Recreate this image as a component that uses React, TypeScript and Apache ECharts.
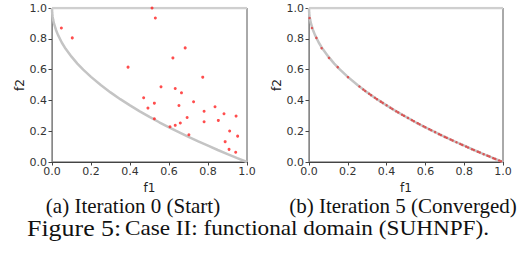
import React, { useEffect, useRef } from "react";
import * as echarts from "echarts";

// Reference front (grey curve)
const frontF1 = [0, 0.001, 0.003, 0.006, 0.01, 0.02, 0.03, 0.05, 0.07, 0.1, 0.13, 0.16, 0.2, 0.25, 0.3, 0.35, 0.4, 0.45, 0.5, 0.55, 0.6, 0.65, 0.7, 0.75, 0.8, 0.85, 0.9, 0.95, 1.0];
const frontF2 = [1.0, 0.968, 0.945, 0.923, 0.9, 0.859, 0.827, 0.776, 0.735, 0.684, 0.639, 0.6, 0.553, 0.5, 0.452, 0.408, 0.368, 0.329, 0.293, 0.258, 0.225, 0.194, 0.163, 0.134, 0.106, 0.078, 0.051, 0.025, 0.0];

// Iteration 0 (start) population
const startF1 = [0.048, 0.104, 0.513, 0.53, 0.39, 0.683, 0.62, 0.773, 0.559, 0.632, 0.664, 0.47, 0.492, 0.525, 0.651, 0.726, 0.78, 0.836, 0.882, 0.944, 0.525, 0.693, 0.78, 0.853, 0.605, 0.632, 0.658, 0.702, 0.911, 0.888, 0.952, 0.908, 0.942];
const startF2 = [0.87, 0.806, 1.0, 0.935, 0.616, 0.741, 0.676, 0.551, 0.488, 0.477, 0.449, 0.417, 0.35, 0.382, 0.367, 0.391, 0.33, 0.359, 0.313, 0.298, 0.281, 0.289, 0.261, 0.27, 0.229, 0.238, 0.253, 0.177, 0.201, 0.132, 0.168, 0.082, 0.063];

// Iteration 5 (converged) population
const convF1 = [0.003, 0.015, 0.038, 0.065, 0.103, 0.148, 0.201, 0.26, 0.28, 0.29, 0.31, 0.32, 0.34, 0.35, 0.37, 0.38, 0.4, 0.42, 0.43, 0.45, 0.46, 0.48, 0.49, 0.51, 0.53, 0.54, 0.56, 0.57, 0.59, 0.6, 0.62, 0.63, 0.65, 0.67, 0.68, 0.7, 0.71, 0.73, 0.74, 0.76, 0.78, 0.79, 0.81, 0.82, 0.84, 0.85, 0.87, 0.88, 0.9, 0.92, 0.93, 0.95, 0.96, 0.98, 0.99];
const convF2 = [0.935, 0.87, 0.806, 0.739, 0.676, 0.616, 0.551, 0.49, 0.471, 0.461, 0.443, 0.434, 0.417, 0.408, 0.392, 0.384, 0.368, 0.352, 0.344, 0.329, 0.322, 0.307, 0.3, 0.286, 0.272, 0.265, 0.252, 0.245, 0.232, 0.225, 0.213, 0.206, 0.194, 0.181, 0.175, 0.163, 0.157, 0.146, 0.14, 0.128, 0.117, 0.111, 0.1, 0.094, 0.083, 0.078, 0.067, 0.062, 0.051, 0.041, 0.036, 0.025, 0.02, 0.01, 0.005];

const topEdge = [[0, 1], [1, 1]];

const captionA = "(a) Iteration 0 (Start)";
const captionB = "(b) Iteration 5 (Converged)";
const figLabel = "Figure 5:";
const figText = "Case II: functional domain (SUHNPF).";

const zip = (a: number[], b: number[]) => a.map((v, i) => [v, b[i]]);

export default function App() {
  const ref = useRef<HTMLDivElement>(null);
  useEffect(() => {
    if (!ref.current) return;
    const chart = echarts.init(ref.current, undefined, { renderer: "svg" });
    const font = "DejaVu Sans";
    const mkX = (gi: number) => ({
      type: "value" as const,
      gridIndex: gi,
      min: 0,
      max: 1,
      interval: 0.2,
      name: "f1",
      nameLocation: "middle" as const,
      nameGap: 18,
      nameTextStyle: { fontFamily: font, fontSize: 12, color: "#222", lineHeight: 12 },
      axisLine: { show: true, lineStyle: { color: "#444", width: 1 } },
      axisTick: { show: true, length: 3.5, lineStyle: { color: "#444" } },
      axisLabel: { fontFamily: font, fontSize: 11, color: "#333", margin: 4, formatter: (v: number) => v.toFixed(1) },
      splitLine: { show: false },
    });
    const mkY = (gi: number) => ({
      type: "value" as const,
      gridIndex: gi,
      min: 0,
      max: 1,
      interval: 0.2,
      name: "f2",
      nameLocation: "middle" as const,
      nameGap: 26,
      nameTextStyle: { fontFamily: font, fontSize: 12, color: "#222" },
      axisLine: { show: true, lineStyle: { color: "#888", width: 1 } },
      axisTick: { show: true, length: 3.5, lineStyle: { color: "#444" } },
      axisLabel: { fontFamily: font, fontSize: 11, color: "#333", margin: 5, formatter: (v: number) => v.toFixed(1) },
      splitLine: { show: false },
    });
    const curve = (gi: number) => ({
      type: "line" as const,
      xAxisIndex: gi,
      yAxisIndex: gi,
      data: zip(frontF1, frontF2),
      showSymbol: false,
      lineStyle: { color: "#c4c4c4", width: 2.5 },
      z: 1,
    });
    const top = (gi: number) => ({
      type: "line" as const,
      xAxisIndex: gi,
      yAxisIndex: gi,
      data: topEdge,
      showSymbol: false,
      lineStyle: { color: "#cfcfcf", width: 2.5 },
      z: 1,
    });
    chart.setOption({
      animation: false,
      grid: [
        { left: 52, top: 8, width: 195, height: 154, show: true, borderColor: "#555", borderWidth: 1, backgroundColor: "transparent" },
        { left: 309, top: 8, width: 194, height: 154, show: true, borderColor: "#555", borderWidth: 1, backgroundColor: "transparent" },
      ],
      xAxis: [mkX(0), mkX(1)],
      yAxis: [mkY(0), mkY(1)],
      series: [
        curve(0),
        top(0),
        {
          type: "scatter",
          xAxisIndex: 0,
          yAxisIndex: 0,
          data: zip(startF1, startF2),
          symbolSize: 3,
          itemStyle: { color: "#ff2020" },
          z: 3,
        },
        curve(1),
        top(1),
        {
          type: "scatter",
          xAxisIndex: 1,
          yAxisIndex: 1,
          data: zip(convF1, convF2),
          symbolSize: 2.5,
          itemStyle: { color: "#e03a3a" },
          z: 3,
        },
      ],
      graphic: [
        {
          type: "text",
          x: 133,
          y: 195,
          style: { text: captionA, font: '21px "Liberation Serif"', fill: "#111", textVerticalAlign: "top", textAlign: "center", lineHeight: 21 },
        },
        {
          type: "text",
          x: 403,
          y: 195,
          style: { text: captionB, font: '21px "Liberation Serif"', fill: "#111", textVerticalAlign: "top", textAlign: "center", lineHeight: 21 },
        },
        {
          type: "text",
          x: 27,
          y: 216,
          scaleX: 1.08,
          style: {
            text: "{a|" + figLabel + "} {b|" + figText + "}",
            textVerticalAlign: "top",
            rich: {
              a: { fontFamily: "Liberation Serif", fontSize: 24, fill: "#111" },
              b: { fontFamily: "Liberation Serif", fontSize: 21.5, fill: "#111" },
            },
          },
        },
      ],
    });
    return () => chart.dispose();
  }, []);
  return <div ref={ref} style={{ position: "absolute", left: 0, top: 0, width: 521, height: 255 }} />;
}
